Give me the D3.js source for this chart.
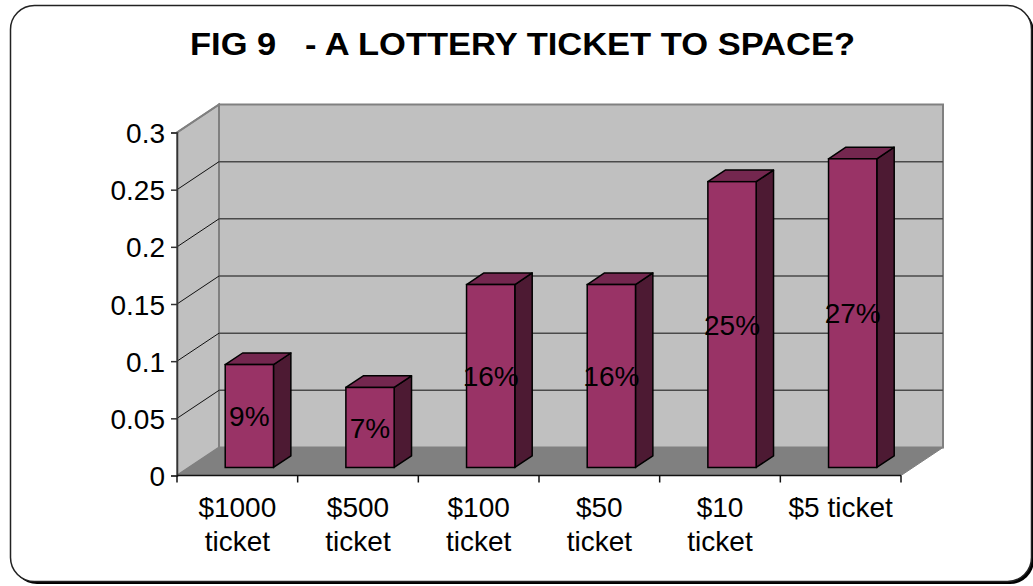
<!DOCTYPE html>
<html>
<head>
<meta charset="utf-8">
<script src="https://cdn.jsdelivr.net/npm/d3@7"></script>
<style>
  html, body { margin: 0; padding: 0; background: #ffffff; }
  svg { display: block; }
  text { font-family: "Liberation Sans", Arial, sans-serif; fill: #000; }
</style>
</head>
<body>
<svg id="chart" width="1033" height="586"></svg>
<script>
// ---- data ----
const title = "FIG 9   - A LOTTERY TICKET TO SPACE?";
const categories = ["$1000 ticket", "$500 ticket", "$100 ticket", "$50 ticket", "$10 ticket", "$5 ticket"];
const values = [0.09, 0.07, 0.16, 0.16, 0.25, 0.27];
const valueLabels = ["9%", "7%", "16%", "16%", "25%", "27%"];
const yTicks = [0, 0.05, 0.1, 0.15, 0.2, 0.25, 0.3];
const yTickLabels = ["0", "0.05", "0.1", "0.15", "0.2", "0.25", "0.3"];

// ---- layout ----
const svg = d3.select("#chart");
const X0 = 177, X1 = 901, Y0 = 475.5, Y1 = 132.5;
const DX = 42, DY = -28;            // depth of the 3D box
const fFront = 0.286, fBack = 0.70; // bar depth position (fraction of depth)

const x = d3.scaleBand().domain(categories).range([X0, X1]).padding(0);
const y = d3.scaleLinear().domain([0, 0.3]).range([Y0, Y1]);

// ---- frame with shadow ----
svg.append("rect").attr("x", 13).attr("y", 8).attr("width", 1021).attr("height", 576)
  .attr("rx", 24).attr("fill", "#000");
svg.append("rect").attr("x", 10.5).attr("y", 5.5).attr("width", 1021).attr("height", 576)
  .attr("rx", 24).attr("fill", "#fff").attr("stroke", "#222").attr("stroke-width", 1.5);

// ---- title ----
svg.append("text")
  .attr("x", 522.5).attr("y", 55)
  .attr("text-anchor", "middle")
  .attr("xml:space", "preserve")
  .style("white-space", "pre")
  .attr("font-size", 31).attr("font-weight", "bold")
  .attr("textLength", 665).attr("lengthAdjust", "spacingAndGlyphs")
  .text(title);

const g = svg.append("g");

// ---- walls ----
const pt = (px, py) => px + "," + py;
// back wall
g.append("polygon")
  .attr("points", [pt(X0 + DX, Y1 + DY), pt(X1 + DX, Y1 + DY), pt(X1 + DX, Y0 + DY), pt(X0 + DX, Y0 + DY)].join(" "))
  .attr("fill", "#c0c0c0").attr("stroke", "#808080").attr("stroke-width", 2);
// side wall
g.append("polygon")
  .attr("points", [pt(X0, Y1), pt(X0 + DX, Y1 + DY), pt(X0 + DX, Y0 + DY), pt(X0, Y0)].join(" "))
  .attr("fill", "#c0c0c0").attr("stroke", "#808080").attr("stroke-width", 2);
// floor
g.append("polygon")
  .attr("points", [pt(X0, Y0), pt(X1, Y0), pt(X1 + DX, Y0 + DY), pt(X0 + DX, Y0 + DY)].join(" "))
  .attr("fill", "#808080").attr("stroke", "#808080").attr("stroke-width", 1);

// gridlines
const gridTicks = yTicks.filter(t => t > 0 && t < 0.3);
g.selectAll(".grid").data(gridTicks).enter().append("line")
  .attr("x1", X0 + DX).attr("x2", X1 + DX)
  .attr("y1", d => y(d) + DY).attr("y2", d => y(d) + DY)
  .attr("stroke", "#4a4a4a").attr("stroke-width", 1.5);
g.selectAll(".sgrid").data(yTicks.filter(t => t > 0)).enter().append("line")
  .attr("x1", X0).attr("x2", X0 + DX)
  .attr("y1", d => y(d)).attr("y2", d => y(d) + DY)
  .attr("stroke", d => d === 0.3 ? "#808080" : "#111").attr("stroke-width", d => d === 0.3 ? 2 : 1);

// ---- bars ----
const bw = x.bandwidth() * 0.4;
const ox = DX * fFront, oy = DY * fFront;
const ddx = DX * (fBack - fFront), ddy = DY * (fBack - fFront);

const bars = g.selectAll(".bar").data(categories.map((c, i) => ({ c, v: values[i], l: valueLabels[i] })))
  .enter().append("g");

bars.each(function (d) {
  const sel = d3.select(this);
  const xf = x(d.c) + x.bandwidth() / 2 - bw / 2 + ox;
  const yt = y(d.v) + oy;
  const yb = y(0) + oy;
  // side
  sel.append("polygon")
    .attr("points", [pt(xf + bw, yt), pt(xf + bw + ddx, yt + ddy), pt(xf + bw + ddx, yb + ddy), pt(xf + bw, yb)].join(" "))
    .attr("fill", "#4d1a33").attr("stroke", "#000").attr("stroke-width", 1.5).attr("stroke-linejoin", "round");
  // top
  sel.append("polygon")
    .attr("points", [pt(xf, yt), pt(xf + bw, yt), pt(xf + bw + ddx, yt + ddy), pt(xf + ddx, yt + ddy)].join(" "))
    .attr("fill", "#74274f").attr("stroke", "#000").attr("stroke-width", 1.5).attr("stroke-linejoin", "round");
  // front
  sel.append("rect")
    .attr("x", xf).attr("y", yt).attr("width", bw).attr("height", yb - yt)
    .attr("fill", "#993366").attr("stroke", "#000").attr("stroke-width", 1.5);
  // label
  sel.append("text")
    .attr("x", xf + bw / 2).attr("y", (yt + yb) / 2)
    .attr("dy", "0.36em")
    .attr("text-anchor", "middle")
    .attr("font-size", 28)
    .text(d.l);
});

// ---- axes ----
const yAxis = d3.axisLeft(y).tickValues(yTicks)
  .tickFormat((d, i) => yTickLabels[i]).tickSize(6).tickPadding(6);
const ya = svg.append("g").attr("transform", `translate(${X0},0)`).call(yAxis);
ya.select(".domain").attr("stroke", "#333").attr("stroke-width", 1.5);
ya.selectAll(".tick line").attr("stroke", "#333").attr("stroke-width", 1.5);
ya.selectAll(".tick text").attr("font-size", 28).attr("font-family", "Liberation Sans, Arial, sans-serif")
  .attr("fill", "#000").attr("dy", "0.36em");

// x axis line and boundary ticks
svg.append("line").attr("x1", X0).attr("x2", X1).attr("y1", Y0).attr("y2", Y0)
  .attr("stroke", "#111").attr("stroke-width", 1.5);
const edges = categories.map(c => x(c)).concat([X1]);
svg.selectAll(".xtick").data(edges).enter().append("line")
  .attr("x1", d => d).attr("x2", d => d).attr("y1", Y0).attr("y2", Y0 + 7)
  .attr("stroke", "#111").attr("stroke-width", 1.5);

// category labels with wrapping
const measure = svg.append("text").attr("font-size", 28).attr("opacity", 0);
const maxW = x.bandwidth() * 0.88;
categories.forEach(c => {
  measure.text(c);
  const w = measure.node().getComputedTextLength();
  let lines = [c];
  if (w > maxW) {
    const words = c.split(" ");
    lines = [words.slice(0, -1).join(" "), words[words.length - 1]];
  }
  const t = svg.append("text")
    .attr("x", x(c) + x.bandwidth() / 2).attr("y", Y0 + 41)
    .attr("text-anchor", "middle").attr("font-size", 28);
  lines.forEach((ln, i) => {
    t.append("tspan").attr("x", x(c) + x.bandwidth() / 2).attr("dy", i === 0 ? 0 : 34.5).text(ln);
  });
});
measure.remove();
</script>
</body>
</html>
